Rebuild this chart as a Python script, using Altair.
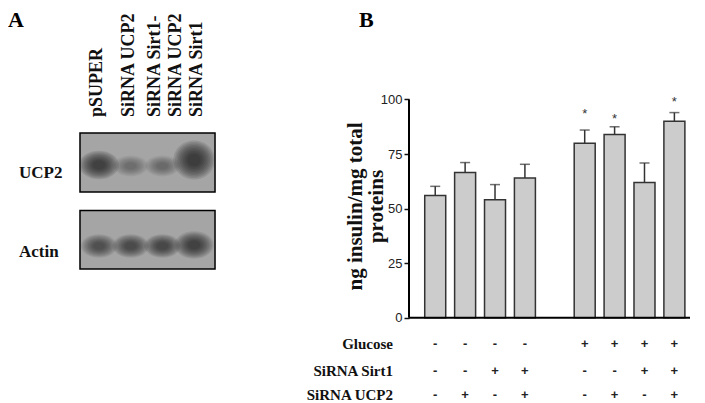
import altair as alt
import pandas as pd

# ---------------- Panel B data ----------------
slots = [0, 1, 2, 3, 5, 6, 7, 8]
means = [56.0, 66.5, 54.0, 64.0, 80.0, 84.0, 62.0, 90.0]
sems = [4.2, 4.6, 7.0, 6.3, 6.0, 3.5, 8.9, 4.0]
stars = ["", "", "", "", "*", "*", "", "*"]
star_pos = [None, None, None, None, 94.5, 92.4, None, 100.1]
glucose = ["-", "-", "-", "-", "+", "+", "+", "+"]
sirt1 = ["-", "-", "+", "+", "-", "-", "+", "+"]
ucp2 = ["-", "+", "-", "+", "-", "+", "-", "+"]
row_names = ["Glucose", "SiRNA Sirt1", "SiRNA UCP2"]
y_ticks = [0, 25, 50, 75, 100]

# ---------------- Panel A data ----------------
lanes = [1, 2, 3, 4]
lane_labels = ["pSUPER", "SiRNA UCP2", "SiRNA Sirt1-\nSiRNA UCP2", "SiRNA Sirt1"]
label_pos = [0.93, 1.95, 2.77, 4.1]
blot_rows = ["UCP2", "Actin"]
ucp2_int = [0.95, 0.36, 0.40, 1.0]
ucp2_w = [31, 27, 27, 32]
ucp2_h = [22, 16, 16, 30]
actin_int = [0.7, 0.74, 0.78, 0.86]
actin_w = [28, 28, 28, 30]
actin_h = [18, 18, 18, 21]

SERIF = "Liberation Serif"
SANS = "Liberation Sans"
H = 387

# ---------------- Panel B ----------------
WB = 281
dfb = pd.DataFrame({"slot": slots, "mean": means, "sem": sems, "star": stars,
                    "star_y": star_pos, "glu": glucose, "sirt": sirt1, "ucp": ucp2})
dfb["top"] = dfb["mean"] + dfb["sem"]

xs = alt.Scale(domain=[-0.71, 8.355], nice=False, zero=False)
ys = alt.Scale(domain=[-35.43, 141.93], nice=False, zero=False)

xenc = alt.X("slot:Q", scale=xs, axis=None)

bars = alt.Chart(dfb).mark_bar(size=21, fill="#cccccc", stroke="#333333", strokeWidth=1.5).encode(
    x=xenc,
    y=alt.Y("mean:Q", scale=ys,
            axis=alt.Axis(values=y_ticks, domain=False, grid=False, tickSize=5, tickWidth=1.5,
                          tickColor="#111111", labelFont=SANS, labelFontSize=13, labelColor="#222222",
                          labelPadding=2,
                          title=["ng insulin/mg total", "proteins"], titleFont=SERIF,
                          titleFontSize=21, titleFontWeight="bold", titleColor="#111111",
                          titleLineHeight=21, titleX=-54, titleY=198, titleBaseline="middle",
                          titleAlign="center", titleAngle=-90)),
)
stem = alt.Chart(dfb).mark_rule(color="#333333", strokeWidth=1.5).encode(
    x=xenc, y=alt.Y("mean:Q", scale=ys), y2="top:Q")
cap = alt.Chart(dfb).mark_tick(orient="horizontal", size=10, thickness=1.5, color="#333333").encode(
    x=xenc, y=alt.Y("top:Q", scale=ys))
star_t = alt.Chart(dfb).transform_filter("datum.star != ''").mark_text(
    font=SANS, fontSize=13, color="#333333", baseline="alphabetic", dy=7).encode(
    x=xenc, y=alt.Y("star_y:Q", scale=ys), text="star:N")

axis_df = pd.DataFrame({"lo": [0], "hi": [100]})
yline = alt.Chart(axis_df).mark_rule(color="black", strokeWidth=2).encode(
    x=alt.value(0), y=alt.Y("lo:Q", scale=ys), y2="hi:Q")
xline = alt.Chart(axis_df).mark_rule(color="black", strokeWidth=2).encode(
    x=alt.value(0), x2=alt.value(WB), y=alt.Y("lo:Q", scale=ys))

row_px = [336, 363, 387]
table_layers = []
for name, field, py in zip(row_names, ["glu", "sirt", "ucp"], row_px):
    table_layers.append(
        alt.Chart(dfb).mark_text(font=SANS, fontSize=13, fontWeight="bold", color="#222222",
                                 baseline="middle").encode(
            x=xenc, y=alt.value(py), text=f"{field}:N"))
    table_layers.append(
        alt.Chart(pd.DataFrame({"name": [name]})).mark_text(
            font=SERIF, fontSize=15, fontWeight="bold", color="#111111", align="right",
            baseline="middle").encode(x=alt.value(-16), y=alt.value(py), text="name:N"))

b_letter = alt.Chart(pd.DataFrame({"t": ["B"]})).mark_text(
    font=SERIF, fontSize=22, fontWeight="bold", color="black", align="left", baseline="top").encode(
    x=alt.value(-50), y=alt.value(2), text="t:N")

panelB = alt.layer(yline, stem, cap, bars, xline, star_t, b_letter, *table_layers).properties(
    width=WB, height=H)

# ---------------- Panel A ----------------
WA = 320
xa = alt.Scale(domain=[-1.871, 8.224], nice=False, zero=False)
ya = alt.Scale(domain=[0, H], reverse=True, nice=False, zero=False)

box_df = pd.DataFrame({"row": blot_rows, "x0": [0.4, 0.4], "x1": [4.66, 4.66],
                       "y0": [125, 202.5], "y1": [184, 261], "yc": [161, 240]})
boxes = alt.Chart(box_df).mark_rect(fill="#a5a5a5", stroke="black", strokeWidth=1.5).encode(
    x=alt.X("x0:Q", scale=xa, axis=None), x2="x1:Q",
    y=alt.Y("y0:Q", scale=ya, axis=None), y2="y1:Q")

band_y = {"UCP2": [157, 158, 158, 152], "Actin": [238, 238, 238, 237]}
rings = [1.3, 1.2, 1.1, 1.0, 0.9, 0.8, 0.7, 0.6, 0.5, 0.4]
recs = []
for row, ints, ws, hs in [("UCP2", ucp2_int, ucp2_w, ucp2_h), ("Actin", actin_int, actin_w, actin_h)]:
    for lane, it, w, h, yv in zip(lanes, ints, ws, hs, band_y[row]):
        r = h / w
        path = f"M-1,0A1,{r:.3f},0,1,1,1,0A1,{r:.3f},0,1,1,-1,0Z"
        for f in rings:
            recs.append({"lane": lane, "py": yv, "sz": (w * f) ** 2, "shape": path,
                         "op": 0.12 * it})
band_df = pd.DataFrame(recs)
bands = alt.Chart(band_df).mark_point(filled=True, color="#181818", strokeWidth=0).encode(
    x=alt.X("lane:Q", scale=xa, axis=None), y=alt.Y("py:Q", scale=ya, axis=None),
    size=alt.Size("sz:Q", scale=None), shape=alt.Shape("shape:N", scale=None),
    opacity=alt.Opacity("op:Q", scale=None))

lab_df = pd.DataFrame({"pos": label_pos, "label": lane_labels})
lane_text = alt.Chart(lab_df).mark_text(
    font=SERIF, fontSize=18, fontWeight="bold", color="#111111", angle=270, align="left",
    baseline="middle", lineBreak="\n", lineHeight=21).encode(
    x=alt.X("pos:Q", scale=xa, axis=None), y=alt.value(109), text="label:N")

row_text = alt.Chart(box_df).mark_text(
    font=SERIF, fontSize=17, fontWeight="bold", color="#111111", align="left",
    baseline="middle", dy=4).encode(
    x=alt.value(11), y=alt.Y("yc:Q", scale=ya, axis=None), text="row:N")

a_letter = alt.Chart(pd.DataFrame({"t": ["A"]})).mark_text(
    font=SERIF, fontSize=22, fontWeight="bold", color="black", align="left", baseline="top").encode(
    x=alt.value(0), y=alt.value(2), text="t:N")

panelA = alt.layer(boxes, bands, lane_text, row_text, a_letter).properties(width=WA, height=H)

chart = alt.hconcat(panelA, panelB, spacing=81, bounds="flush").properties(
    padding=0).configure_view(stroke=None)

chart.save("out.html", embed_options={"renderer": "svg", "actions": False})
